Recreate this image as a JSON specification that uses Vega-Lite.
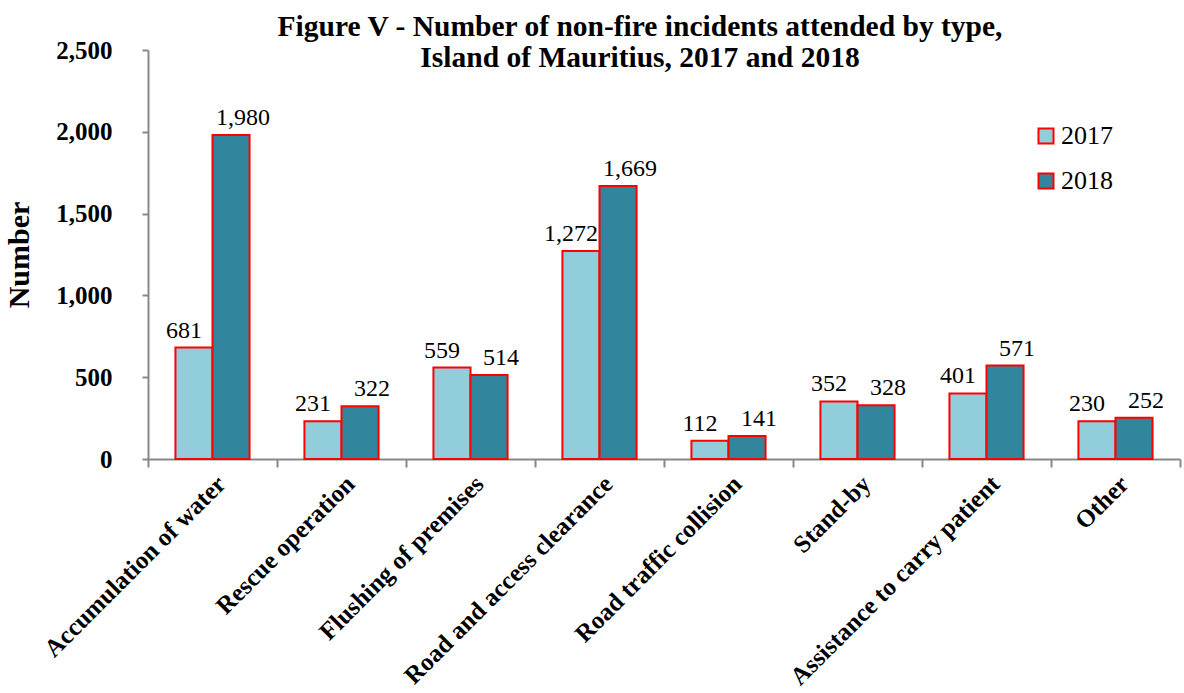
{
  "$schema": "https://vega.github.io/schema/vega-lite/v6.json",
  "width": 1032,
  "height": 409,
  "autosize": {"type": "none"},
  "padding": {"left": 148, "top": 50, "right": 4, "bottom": 234},
  "background": "white",
  "config": {"view": {"stroke": null}, "font": "Liberation Serif"},
  "title": {
    "text": ["Figure V - Number of non-fire incidents attended by type,", "Island of Mauritius, 2017 and 2018"],
    "font": "Liberation Serif",
    "fontSize": 29.5,
    "fontWeight": "bold",
    "color": "black",
    "anchor": "middle",
    "dx": -24,
    "offset": -35,
    "lineHeight": 31
  },
  "data": {
    "values": [
      {"type": "Accumulation of water", "year": "2017", "value": 681},
      {"type": "Accumulation of water", "year": "2018", "value": 1980},
      {"type": "Rescue operation", "year": "2017", "value": 231},
      {"type": "Rescue operation", "year": "2018", "value": 322},
      {"type": "Flushing of premises", "year": "2017", "value": 559},
      {"type": "Flushing of premises", "year": "2018", "value": 514},
      {"type": "Road and access clearance", "year": "2017", "value": 1272},
      {"type": "Road and access clearance", "year": "2018", "value": 1669},
      {"type": "Road traffic collision", "year": "2017", "value": 112},
      {"type": "Road traffic collision", "year": "2018", "value": 141},
      {"type": "Stand-by", "year": "2017", "value": 352},
      {"type": "Stand-by", "year": "2018", "value": 328},
      {"type": "Assistance to carry patient", "year": "2017", "value": 401},
      {"type": "Assistance to carry patient", "year": "2018", "value": 571},
      {"type": "Other", "year": "2017", "value": 230},
      {"type": "Other", "year": "2018", "value": 252}
    ]
  },
  "encoding": {
    "x": {
      "field": "type", "type": "nominal", "sort": null,
      "scale": {"paddingInner": 0, "paddingOuter": 0},
      "axis": {
        "title": null, "labelAngle": -45, "labelAlign": "right", "labelBaseline": "top",
        "labelFont": "Liberation Serif", "labelFontSize": 25, "labelFontWeight": "bold", "labelColor": "black",
        "labelPadding": 4, "labelLimit": 400,
        "tickBand": "extent", "tickColor": "#888888", "tickSize": 8, "tickWidth": 2,
        "domainColor": "#888888", "domainWidth": 2
      }
    },
    "xOffset": {"field": "year", "type": "nominal", "scale": {"paddingInner": 0, "paddingOuter": 0.74}},
    "y": {
      "field": "value", "type": "quantitative",
      "scale": {"domain": [0, 2500]},
      "axis": {
        "title": "Number", "titleFont": "Liberation Serif", "titleFontSize": 30, "titleFontWeight": "bold", "titleColor": "black",
        "titlePadding": 21,
        "values": [0, 500, 1000, 1500, 2000, 2500], "format": ",d",
        "labelFont": "Liberation Serif", "labelFontSize": 25, "labelFontWeight": "bold", "labelColor": "black",
        "labelPadding": 30,
        "grid": false, "tickColor": "#888888", "tickSize": 6, "tickWidth": 2,
        "domainColor": "#888888", "domainWidth": 2
      }
    }
  },
  "layer": [
    {
      "mark": {"type": "bar", "stroke": "#FF0000", "strokeWidth": 2},
      "encoding": {
        "color": {
          "field": "year", "type": "nominal",
          "scale": {"domain": ["2017", "2018"], "range": ["#92CDDC", "#31859C"]},
          "legend": {
            "title": null, "orient": "none", "legendX": 885, "legendY": 73,
            "symbolType": "square", "symbolSize": 225, "symbolStrokeColor": "#FF0000", "symbolStrokeWidth": 2,
            "labelFont": "Liberation Serif", "labelFontSize": 26, "labelColor": "black",
            "rowPadding": 19, "labelOffset": 2
          }
        }
      }
    },
    {
      "transform": [{"filter": "datum.year === '2017'"}],
      "mark": {"type": "text", "baseline": "alphabetic", "dy": -10, "dx": -10, "font": "Liberation Serif", "fontSize": 24, "color": "black"},
      "encoding": {"text": {"field": "value", "type": "quantitative", "format": ",d"}}
    },
    {
      "transform": [{"filter": "datum.year === '2018'"}],
      "mark": {"type": "text", "baseline": "alphabetic", "dy": -10, "dx": 12, "font": "Liberation Serif", "fontSize": 24, "color": "black"},
      "encoding": {"text": {"field": "value", "type": "quantitative", "format": ",d"}}
    }
  ]
}
